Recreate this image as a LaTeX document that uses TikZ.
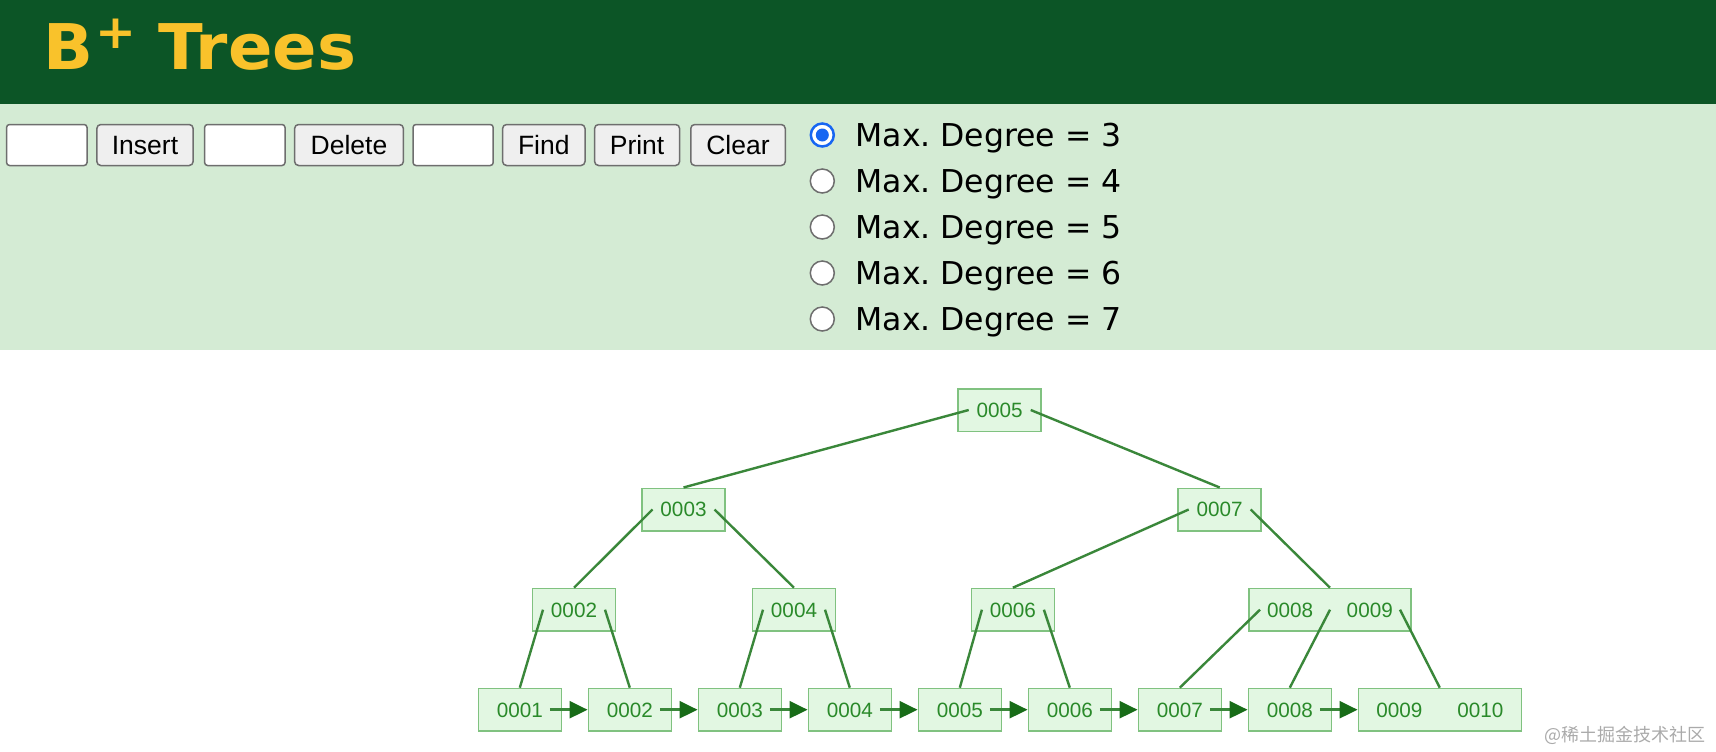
\documentclass[tikz,border=0pt]{standalone}
\usepackage{fontspec}
\setmainfont{Liberation Sans}
\newfontfamily\verdana{DejaVu Sans}
\newfontfamily\verdanawide{DejaVu Sans}[FakeStretch=1.04]
\newfontfamily\cjk{Noto Sans CJK SC}
\usepackage{xcolor}
\usepackage{tikz}
\usetikzlibrary{arrows.meta}
\frenchspacing

\definecolor{headgreen}{HTML}{0C5526}
\definecolor{titleyellow}{HTML}{F9C22B}
\definecolor{panelgreen}{HTML}{D4EBD4}
\definecolor{btnfill}{HTML}{EFEFEF}
\definecolor{btnline}{HTML}{6E6E6E}
\definecolor{radioblue}{HTML}{1766F2}
\definecolor{nodefill}{HTML}{E2F7E2}
\definecolor{nodeline}{HTML}{80C280}
\definecolor{nodetext}{HTML}{2A8A2A}
\definecolor{edgegreen}{HTML}{3A873A}
\definecolor{tipgreen}{HTML}{186C18}
\definecolor{markgrey}{HTML}{AAAAAA}

\begin{document}
\begin{tikzpicture}[
    x=1pt, y=-1pt,
    field/.style={draw=btnline, fill=white, line width=1.5pt, rounded corners=3pt, minimum height=41pt, inner sep=0pt},
    btn/.style={draw=btnline, fill=btnfill, line width=1.5pt, rounded corners=4pt, minimum height=41pt, inner sep=0pt,
        font=\fontsize{26.5}{26.5}\selectfont, text height=19pt, text depth=0pt},
    radiooff/.style={draw=btnline, fill=white, line width=1.5pt, circle, minimum size=24pt, inner sep=0pt},
    radioon/.style={draw=radioblue, fill=white, line width=2.5pt, circle, minimum size=23pt, inner sep=0pt},
    degree/.style={anchor=base west, font=\verdana\fontsize{31.5}{31.5}\selectfont},
    key/.style={draw=nodeline, fill=nodefill, line width=1.5pt, minimum width=83pt, minimum height=42.5pt, inner sep=0pt,
        text=nodetext, font=\fontsize{20.7}{20.7}\selectfont, text height=14.8pt, text depth=0pt},
    wide/.style={key, minimum width=162pt},
    edge/.style={draw=edgegreen, line width=2.4pt},
    leaflink/.style={draw=edgegreen, line width=2.6pt, -{Triangle[length=18pt, width=17pt, color=tipgreen]}},
]
\useasboundingbox (0,0) rectangle (1716,752);

% Header and panel
\fill[headgreen] (0,0) rectangle (1716,104);
\fill[panelgreen] (0,104) rectangle (1716,349.5);
\node[anchor=base west, text=titleyellow, font=\verdanawide\bfseries\fontsize{63}{63}\selectfont] (title) at (40,70)
    {B\kern2pt\raisebox{21pt}{\fontsize{47}{47}\selectfont+}\hspace{22pt}Trees};

% Controls
\node[field, minimum width=80.5pt] (f1) at (46.8,145) {};
\node[btn, minimum width=96.3pt] (insert) at (145,145) {Insert};
\node[field, minimum width=80.4pt] (f2) at (244.8,145) {};
\node[btn, minimum width=108.8pt] (delete) at (349,145) {Delete};
\node[field, minimum width=80.2pt] (f3) at (453.1,145) {};
\node[btn, minimum width=82.4pt] (find) at (543.8,145) {Find};
\node[btn, minimum width=85pt] (print) at (637.1,145) {Print};
\node[btn, minimum width=94.5pt] (clear) at (738,145) {Clear};

% Degree choice
\node[radioon] (r3) at (822.3,135) {};
\fill[radioblue] (r3) circle (6.5);
\node[radiooff] (r4) at (822.3,181) {};
\node[radiooff] (r5) at (822.3,227) {};
\node[radiooff] (r6) at (822.3,273) {};
\node[radiooff] (r7) at (822.3,319) {};
\node[degree] (d3) at (852,146.5) {Max. Degree = 3};
\node[degree] (d4) at (852,192.5) {Max. Degree = 4};
\node[degree] (d5) at (852,238.5) {Max. Degree = 5};
\node[degree] (d6) at (852,284.5) {Max. Degree = 6};
\node[degree] (d7) at (852,330.5) {Max. Degree = 7};

% Internal nodes
\node[key] (root) at (999.7,410) {0005};
\node[key] (k3) at (683.5,509.5) {0003};
\node[key] (k7) at (1219.7,509.5) {0007};
\node[key] (k2) at (574,609.7) {0002};
\node[key] (k4) at (794,609.7) {0004};
\node[key] (k6) at (1012.9,609.7) {0006};
\node[wide] (k89) at (1330,609.7) {0008\hspace{33.5pt}0009};

% Leaves
\node[key] (l1) at (519.8,709.7) {0001};
\node[key] (l2) at (629.8,709.7) {0002};
\node[key] (l3) at (739.8,709.7) {0003};
\node[key] (l4) at (849.8,709.7) {0004};
\node[key] (l5) at (959.8,709.7) {0005};
\node[key] (l6) at (1069.8,709.7) {0006};
\node[key] (l7) at (1179.8,709.7) {0007};
\node[key] (l8) at (1289.8,709.7) {0008};
\node[key, minimum width=163pt] (l9) at (1439.8,709.7) {0009\hspace{35pt}0010};

% Child pointers
\draw[edge] ([xshift=-31pt]root.center) -- (k3.north);
\draw[edge] ([xshift=31pt]root.center) -- (k7.north);
\draw[edge] ([xshift=-31pt]k3.center) -- (k2.north);
\draw[edge] ([xshift=31pt]k3.center) -- (k4.north);
\draw[edge] ([xshift=-31pt]k7.center) -- (k6.north);
\draw[edge] ([xshift=31pt]k7.center) -- (k89.north);
\draw[edge] ([xshift=-31pt]k2.center) -- (l1.north);
\draw[edge] ([xshift=31pt]k2.center) -- (l2.north);
\draw[edge] ([xshift=-31pt]k4.center) -- (l3.north);
\draw[edge] ([xshift=31pt]k4.center) -- (l4.north);
\draw[edge] ([xshift=-31pt]k6.center) -- (l5.north);
\draw[edge] ([xshift=31pt]k6.center) -- (l6.north);
\draw[edge] ([xshift=-70pt]k89.center) -- (l7.north);
\draw[edge] (k89.center) -- (l8.north);
\draw[edge] ([xshift=70pt]k89.center) -- (l9.north);

% Leaf chain
\draw[leaflink] ([xshift=30pt]l1.center) -- (l2.west);
\draw[leaflink] ([xshift=30pt]l2.center) -- (l3.west);
\draw[leaflink] ([xshift=30pt]l3.center) -- (l4.west);
\draw[leaflink] ([xshift=30pt]l4.center) -- (l5.west);
\draw[leaflink] ([xshift=30pt]l5.center) -- (l6.west);
\draw[leaflink] ([xshift=30pt]l6.center) -- (l7.west);
\draw[leaflink] ([xshift=30pt]l7.center) -- (l8.west);
\draw[leaflink] ([xshift=30pt]l8.center) -- (l9.west);

% Watermark
\node[anchor=east, text=markgrey, font=\cjk\fontsize{18}{18}\selectfont] (mark) at (1709,735) {@稀土掘金技术社区};
\end{tikzpicture}
\end{document}
